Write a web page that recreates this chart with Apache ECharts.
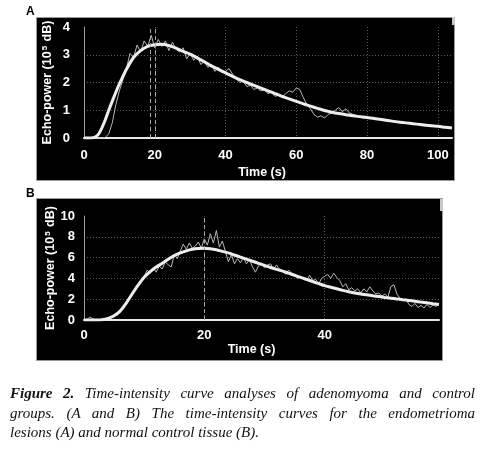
<!DOCTYPE html>
<html><head><meta charset="utf-8">
<script src="https://cdn.jsdelivr.net/npm/echarts@6/dist/echarts.min.js"></script>
<style>
html,body{margin:0;padding:0;background:#fff;width:491px;height:452px;overflow:hidden}
#c{position:absolute;left:0;top:0;width:491px;height:452px}
#cap{position:absolute;left:10px;top:384px;width:465px;font-family:"Liberation Serif","Times New Roman",serif;font-style:italic;font-size:15px;line-height:19.5px;color:#111}
#cap .j{text-align:justify;text-align-last:justify}
#cap b{font-weight:bold}
</style>
</head><body>
<div id="c"></div>
<div id="cap">
<div class="j"><b>Figure 2.</b> Time-intensity curve analyses of adenomyoma and control</div>
<div class="j">groups. (A and B) The time-intensity curves for the endometrioma</div>
<div>lesions (A) and normal control tissue (B).</div>
</div>
<script>
// ---------- Panel A data ----------
const xTicksA = [0, 20, 40, 60, 80, 100];
const yTicksA = [0, 1, 2, 3, 4];
const fitATime = [0,2,3,4,5,6,7,8,9,10,11,12,14,16,18,20,22,24,26,28,30,32,34,36,38,40,42,44,46,48,50,52,54,56,58,60,62,64,66,68,70,72,74,76,78,80,82,84,86,88,90,92,94,96,98,100,102,104];
const fitAValue = [0,0,0.02,0.12,0.35,0.65,1.0,1.33,1.65,1.95,2.22,2.48,2.9,3.15,3.3,3.36,3.38,3.33,3.24,3.12,3.02,2.89,2.75,2.6,2.47,2.35,2.22,2.1,2.0,1.9,1.8,1.7,1.6,1.5,1.41,1.32,1.23,1.15,1.07,0.99,0.93,0.88,0.84,0.8,0.77,0.74,0.7,0.67,0.63,0.59,0.56,0.53,0.5,0.47,0.44,0.42,0.39,0.36];
const rawAStep = 1;
const rawAValue = [0,0,0,0,0,0,0.02,0.15,0.55,1.2,1.7,2.1,2.5,3.05,2.9,3.35,3.1,3.5,3.3,3.7,3.25,3.55,3.3,3.5,3.15,3.45,3.2,3.1,3.25,2.85,3.05,2.8,2.95,2.65,2.75,2.55,2.65,2.4,2.55,2.35,2.4,2.5,2.3,2.15,2.0,2.05,1.85,1.9,1.75,1.8,1.7,1.72,1.6,1.65,1.5,1.55,1.45,1.6,1.7,1.65,1.8,1.75,1.45,1.2,1.05,0.85,0.75,0.8,0.72,0.85,0.9,1.0,1.1,0.95,1.05,0.9,0.85,0.8,0.78,0.72,0.76,0.7,0.72,0.66,0.7,0.62,0.65,0.6,0.58,0.55,0.6,0.52,0.55,0.5,0.52,0.47,0.5,0.45,0.47,0.43,0.45,0.4,0.38,0.36];
const peakLinesA = [18.8, 20];

// ---------- Panel B data ----------
const xTicksB = [0, 20, 40];
const yTicksB = [0, 2, 4, 6, 8, 10];
const fitBTime = [0,1,2,3,4,5,6,7,8,9,10,11,12,13,14,15,16,17,18,19,20,21,22,23,24,25,26,27,28,29,30,31,32,33,34,35,36,37,38,39,40,41,42,43,44,45,46,47,48,49,50,51,52,53,54,55,56,57,58,59];
const fitBValue = [0,0,0,0.02,0.15,0.4,0.85,1.6,2.5,3.35,4.1,4.65,5.1,5.45,5.85,6.2,6.45,6.65,6.8,6.88,6.9,6.85,6.75,6.6,6.45,6.25,6.05,5.85,5.65,5.45,5.25,5.05,4.87,4.7,4.5,4.3,4.1,3.9,3.7,3.5,3.3,3.15,3.0,2.85,2.72,2.6,2.5,2.42,2.33,2.25,2.17,2.1,2.03,1.95,1.88,1.8,1.72,1.65,1.57,1.5];
const rawBStep = 0.5;
const rawBValue = [0,0.05,0.3,0.1,0,0,0.02,0.05,0.15,0.25,0.42,0.6,0.85,1.2,1.6,2.05,2.5,2.9,3.4,3.7,4.2,4.8,4.5,5.0,4.6,5.2,4.9,5.6,5.3,5.1,6.3,5.9,6.6,7.3,6.8,7.4,6.9,7.1,7.5,6.9,7.8,7.2,8.3,7.4,8.6,7.0,7.6,6.6,5.6,6.3,5.4,5.9,5.5,6.0,5.4,5.8,5.1,4.6,5.2,5.5,5.0,5.3,5.4,4.9,5.3,4.8,4.7,4.4,4.8,4.5,4.3,4.0,4.2,3.9,3.8,4.3,3.8,3.9,3.5,4.0,4.2,4.4,4.0,4.5,4.1,3.8,3.2,3.5,2.9,3.1,2.8,3.0,2.6,3.0,2.7,3.2,2.8,2.5,2.6,2.3,2.5,2.2,3.2,3.4,2.5,2.1,1.9,2.0,1.5,1.3,1.6,1.2,1.4,1.15,1.5,1.2,1.45,1.3,1.55];
const peakLinesB = [20];

const yNameText = 'Echo-power (10{sup|5} dB)';
const xNameText = 'Time (s)';

// ---------- build ----------
const pairs = (ts, vs) => ts.map((t, i) => [t, vs[i]]);
const stepPairs = (step, vs) => vs.map((v, i) => [i * step, v]);

const FONT = '"Liberation Sans", Arial, sans-serif';
const labelStyle = { color: '#ffffff', fontWeight: 'bold', fontSize: 13, fontFamily: FONT };
const gridLine = { show: true, showMinLine: false, showMaxLine: false, lineStyle: { color: '#5a5a5a', type: [1, 2], width: 1 } };

function xAxisCfg(gi, max, ticks, margin, gap, padR) {
  return {
    gridIndex: gi, type: 'value', min: 0, max: max, interval: ticks[1] - ticks[0],
    axisLine: { show: true, lineStyle: { color: '#e8e8e8', width: 2 } },
    axisTick: { show: false },
    axisLabel: Object.assign({ margin: margin, showMaxLabel: false,
      formatter: v => ticks.indexOf(v) >= 0 ? String(v) : '' }, labelStyle),
    splitLine: gridLine,
    name: xNameText, nameLocation: 'middle', nameGap: gap, nameMoveOverlap: false,
    nameTextStyle: Object.assign({ padding: [0, padR, 0, 0] }, labelStyle, { fontSize: 12.5 })
  };
}
function yAxisCfg(gi, ticks, margin, gap) {
  return {
    gridIndex: gi, type: 'value', min: ticks[0], max: ticks[ticks.length - 1], interval: ticks[1] - ticks[0],
    axisLine: { show: true, lineStyle: { color: '#a0a0a0', width: 1 } },
    axisTick: { show: false },
    axisLabel: Object.assign({ margin: margin }, labelStyle),
    splitLine: gridLine,
    name: yNameText, nameLocation: 'middle', nameGap: gap, nameMoveOverlap: false,
    nameTextStyle: Object.assign({}, labelStyle, { fontSize: 12.5,
      rich: { sup: { fontSize: 8, fontWeight: 'bold', color: '#fff', fontFamily: FONT, verticalAlign: 'top', padding: [0, 1, 0, 1] } } })
  };
}
function markV(vals) {
  return { silent: true, symbol: 'none', animation: false, label: { show: false },
    lineStyle: { color: '#a8a8a8', type: [4, 3], width: 1 },
    data: vals.map(v => ({ xAxis: v })) };
}

const chart = echarts.init(document.getElementById('c'), null, { renderer: 'canvas' });
chart.setOption({
  backgroundColor: '#ffffff',
  animation: false,
  graphic: [
    { type: 'rect', z: -100, shape: { x: 36.5, y: 17.5, width: 418, height: 163 }, style: { fill: '#000', stroke: '#9a9a9a', lineWidth: 1 } },
    { type: 'rect', z: -100, shape: { x: 36.5, y: 198.5, width: 406, height: 162 }, style: { fill: '#000', stroke: '#9a9a9a', lineWidth: 1 } },
    { type: 'rect', z: -90, shape: { x: 452, y: 17, width: 3, height: 8 }, style: { fill: '#c8c8c8' } },
    { type: 'rect', z: -90, shape: { x: 440, y: 199, width: 3, height: 12 }, style: { fill: '#c8c8c8' } },
    { type: 'text', x: 26, y: 12, style: { text: 'A', fill: '#000', font: 'bold 12px ' + FONT, textVerticalAlign: 'middle' } },
    { type: 'text', x: 26, y: 194, style: { text: 'B', fill: '#000', font: 'bold 12px ' + FONT, textVerticalAlign: 'middle' } }
  ],
  grid: [
    { left: 84, top: 27, width: 368, height: 111 },
    { left: 84, top: 216, width: 355, height: 104 }
  ],
  xAxis: [ xAxisCfg(0, 104, xTicksA, 11, 28, 12), xAxisCfg(1, 59, xTicksB, 9, 23, 20) ],
  yAxis: [ yAxisCfg(0, yTicksA, 14, 30), yAxisCfg(1, yTicksB, 9, 27) ],
  series: [
    { type: 'line', xAxisIndex: 0, yAxisIndex: 0, data: stepPairs(rawAStep, rawAValue), showSymbol: false, z: 3,
      lineStyle: { color: '#b8b8b8', width: 1 } },
    { type: 'line', xAxisIndex: 0, yAxisIndex: 0, data: pairs(fitATime, fitAValue), showSymbol: false, smooth: 0.3, z: 4,
      lineStyle: { color: '#ededed', width: 3 }, markLine: markV(peakLinesA) },
    { type: 'line', xAxisIndex: 1, yAxisIndex: 1, data: stepPairs(rawBStep, rawBValue), showSymbol: false, z: 3,
      lineStyle: { color: '#b8b8b8', width: 1 } },
    { type: 'line', xAxisIndex: 1, yAxisIndex: 1, data: pairs(fitBTime, fitBValue), showSymbol: false, smooth: 0.3, z: 4,
      lineStyle: { color: '#ededed', width: 3 }, markLine: markV(peakLinesB) }
  ]
});
</script>
</body></html>
